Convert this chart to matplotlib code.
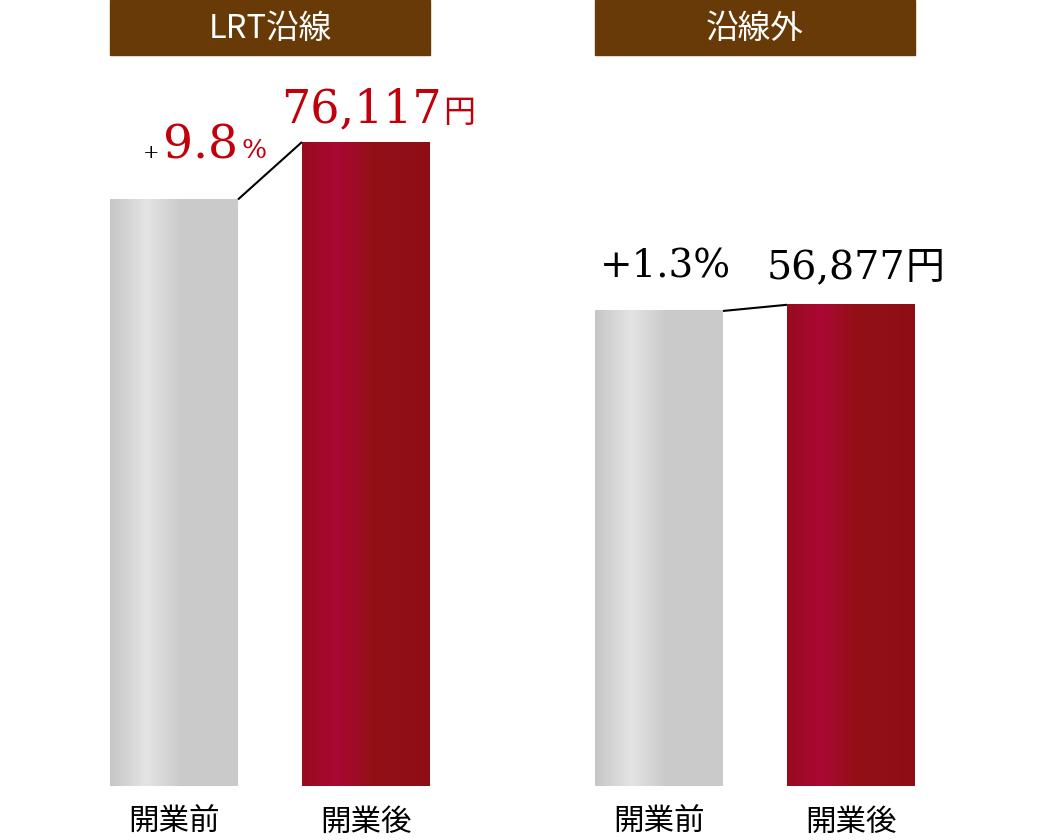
import numpy as np
import matplotlib
matplotlib.use('Agg')
import matplotlib.pyplot as plt
from matplotlib.colors import to_rgb
from matplotlib.patches import Rectangle

# data
groups = ['LRT沿線', '沿線外']
periods = ['開業前', '開業後']
before = [69323, 56147]
after = [76117, 56877]
growth = ['9.8', '1.3']
after_labels = ['76,117', '56,877']

RED = '#c0000a'
HEADER = '#673a07'
SERIF = ['DejaVu Serif']
CJK = ['Noto Sans CJK JP', 'DejaVu Sans']

gray_stops = [(0.0, '#c6c6c6'), (0.28, '#e4e4e4'), (0.55, '#cbcbcb'), (1.0, '#cacaca')]
red_stops = [(0.0, '#970c1d'), (0.27, '#aa0834'), (0.55, '#931017'), (1.0, '#8f0e15')]


def gradient(stops, n=128):
    pos = [s[0] for s in stops]
    cols = np.array([to_rgb(s[1]) for s in stops])
    t = np.linspace(0, 1, n)
    img = np.stack([np.interp(t, pos, cols[:, k]) for k in range(3)], axis=-1)
    return img[np.newaxis, :, :]


fig = plt.figure(figsize=(10.5, 8.4), dpi=100)
# bars sit on pixel row 786
ax = fig.add_axes([0, 54 / 840, 1, 786 / 840])
units_per_px = after[0] / 644.0
ax.set_xlim(0, 1050)
ax.set_ylim(0, 786 * units_per_px)
ax.axis('off')

group_centers = [270, 755]
offset = 96
bar_w = 128

for i, g in enumerate(groups):
    xb = group_centers[i] - offset
    xa = group_centers[i] + offset
    for x, v, stops in [(xb, before[i], gray_stops), (xa, after[i], red_stops)]:
        ax.imshow(gradient(stops), extent=(x - bar_w / 2, x + bar_w / 2, 0, v),
                  aspect='auto', interpolation='bilinear', zorder=2)
    # leader line between bar tops
    ax.plot([xb + bar_w / 2, xa - bar_w / 2], [before[i], after[i]],
            color='black', lw=1.5, zorder=3, solid_capstyle='butt')

    # header box
    left = (group_centers[i] - offset - bar_w / 2) / 1050
    width = (2 * offset + bar_w) / 1050
    fig.patches.append(Rectangle((left, 1 - 55 / 840), width, 55 / 840,
                                 transform=fig.transFigure, color=HEADER, zorder=1))
    fig.text(left + width / 2, 1 - 29 / 840, g, color='white', fontsize=23.5,
             family=CJK, ha='center', va='center')

    # category labels
    for x, p in [(xb, periods[0]), (xa, periods[1])]:
        ax.text(x, -36 * units_per_px, p, family=CJK, fontsize=22,
                ha='center', va='center', clip_on=False)

# LRT growth label: small "+", big red number, small "%"
t = ax.annotate('+', xy=(group_centers[0] - offset - bar_w / 2, before[0]),
                xytext=(33, 41), textcoords='offset pixels', fontsize=14,
                family=SERIF, va='baseline', ha='left')
t = ax.annotate(growth[0], xy=(1, before[0]), xycoords=(t, 'data'),
                xytext=(3, 41), textcoords='offset pixels', fontsize=34,
                family=SERIF, color=RED, va='baseline', ha='left')
ax.annotate('%', xy=(1, before[0]), xycoords=(t, 'data'),
            xytext=(4, 41), textcoords='offset pixels', fontsize=19,
            family=SERIF, color=RED, va='baseline', ha='left')

t = ax.annotate(after_labels[0], xy=(group_centers[0] + offset - bar_w / 2, after[0]),
                xytext=(-21, 20), textcoords='offset pixels', fontsize=33,
                family=SERIF, color=RED, va='baseline', ha='left')
ax.annotate('円', xy=(1, after[0]), xycoords=(t, 'data'),
            xytext=(2, 20), textcoords='offset pixels', fontsize=23,
            family=CJK, color=RED, va='baseline', ha='left')

# 沿線外 labels, plain black
ax.annotate('+' + growth[1] + '%', xy=(group_centers[1] - offset - bar_w / 2, before[1]),
            xytext=(5, 33), textcoords='offset pixels', fontsize=28,
            family=SERIF, va='baseline', ha='left')
t = ax.annotate(after_labels[1], xy=(group_centers[1] + offset - bar_w / 2, after[1]),
                xytext=(-20, 26), textcoords='offset pixels', fontsize=28.5,
                family=SERIF, va='baseline', ha='left')
ax.annotate('円', xy=(1, after[1]), xycoords=(t, 'data'),
            xytext=(0, 26), textcoords='offset pixels', fontsize=28,
            family=CJK, va='baseline', ha='left')

fig.savefig('out.png', dpi=100, facecolor='white')
